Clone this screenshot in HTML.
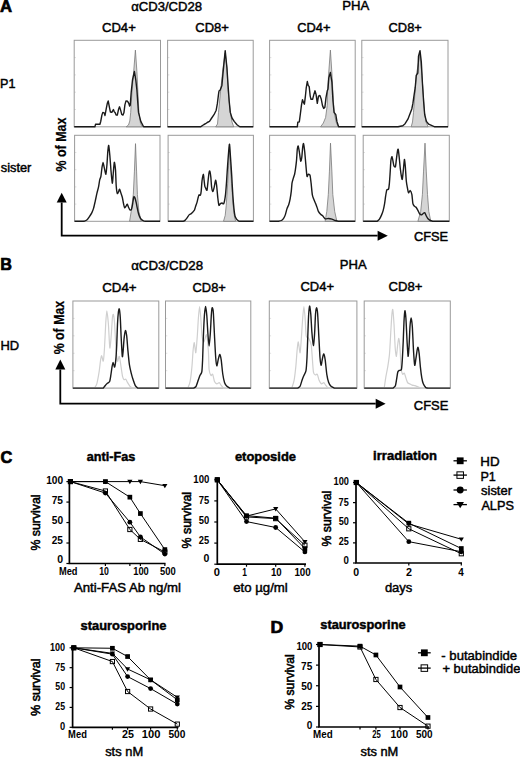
<!DOCTYPE html>
<html><head><meta charset="utf-8"><style>
html,body{margin:0;padding:0;background:#fff;}
svg{display:block;font-family:"Liberation Sans", sans-serif;}
</style></head><body>
<svg width="520" height="757" viewBox="0 0 520 757">
<rect width="520" height="757" fill="#fff"/>
<path d="M74.20 109.50 L76.00 109.50" stroke="#d8d8d8" stroke-width="0.8"/>
<path d="M74.20 92.20 L76.00 92.20" stroke="#d8d8d8" stroke-width="0.8"/>
<path d="M74.20 74.90 L76.00 74.90" stroke="#d8d8d8" stroke-width="0.8"/>
<path d="M74.20 57.60 L76.00 57.60" stroke="#d8d8d8" stroke-width="0.8"/>
<rect x="74.20" y="40.30" width="86.30" height="86.50" fill="none" stroke="#9a9a9a" stroke-width="1"/>
<path d="M167.60 109.50 L169.40 109.50" stroke="#d8d8d8" stroke-width="0.8"/>
<path d="M167.60 92.20 L169.40 92.20" stroke="#d8d8d8" stroke-width="0.8"/>
<path d="M167.60 74.90 L169.40 74.90" stroke="#d8d8d8" stroke-width="0.8"/>
<path d="M167.60 57.60 L169.40 57.60" stroke="#d8d8d8" stroke-width="0.8"/>
<rect x="167.60" y="40.30" width="85.60" height="86.50" fill="none" stroke="#9a9a9a" stroke-width="1"/>
<path d="M269.60 109.50 L271.40 109.50" stroke="#d8d8d8" stroke-width="0.8"/>
<path d="M269.60 92.20 L271.40 92.20" stroke="#d8d8d8" stroke-width="0.8"/>
<path d="M269.60 74.90 L271.40 74.90" stroke="#d8d8d8" stroke-width="0.8"/>
<path d="M269.60 57.60 L271.40 57.60" stroke="#d8d8d8" stroke-width="0.8"/>
<rect x="269.60" y="40.30" width="85.60" height="86.50" fill="none" stroke="#9a9a9a" stroke-width="1"/>
<path d="M361.80 109.50 L363.60 109.50" stroke="#d8d8d8" stroke-width="0.8"/>
<path d="M361.80 92.20 L363.60 92.20" stroke="#d8d8d8" stroke-width="0.8"/>
<path d="M361.80 74.90 L363.60 74.90" stroke="#d8d8d8" stroke-width="0.8"/>
<path d="M361.80 57.60 L363.60 57.60" stroke="#d8d8d8" stroke-width="0.8"/>
<rect x="361.80" y="40.30" width="86.20" height="86.50" fill="none" stroke="#9a9a9a" stroke-width="1"/>
<path d="M74.60 204.10 L76.40 204.10" stroke="#d8d8d8" stroke-width="0.8"/>
<path d="M74.60 186.90 L76.40 186.90" stroke="#d8d8d8" stroke-width="0.8"/>
<path d="M74.60 169.70 L76.40 169.70" stroke="#d8d8d8" stroke-width="0.8"/>
<path d="M74.60 152.50 L76.40 152.50" stroke="#d8d8d8" stroke-width="0.8"/>
<rect x="74.60" y="135.30" width="85.40" height="86.00" fill="none" stroke="#9a9a9a" stroke-width="1"/>
<path d="M168.10 204.10 L169.90 204.10" stroke="#d8d8d8" stroke-width="0.8"/>
<path d="M168.10 186.90 L169.90 186.90" stroke="#d8d8d8" stroke-width="0.8"/>
<path d="M168.10 169.70 L169.90 169.70" stroke="#d8d8d8" stroke-width="0.8"/>
<path d="M168.10 152.50 L169.90 152.50" stroke="#d8d8d8" stroke-width="0.8"/>
<rect x="168.10" y="135.30" width="85.30" height="86.00" fill="none" stroke="#9a9a9a" stroke-width="1"/>
<path d="M269.60 204.10 L271.40 204.10" stroke="#d8d8d8" stroke-width="0.8"/>
<path d="M269.60 186.90 L271.40 186.90" stroke="#d8d8d8" stroke-width="0.8"/>
<path d="M269.60 169.70 L271.40 169.70" stroke="#d8d8d8" stroke-width="0.8"/>
<path d="M269.60 152.50 L271.40 152.50" stroke="#d8d8d8" stroke-width="0.8"/>
<rect x="269.60" y="135.30" width="85.60" height="86.00" fill="none" stroke="#9a9a9a" stroke-width="1"/>
<path d="M363.20 204.10 L365.00 204.10" stroke="#d8d8d8" stroke-width="0.8"/>
<path d="M363.20 186.90 L365.00 186.90" stroke="#d8d8d8" stroke-width="0.8"/>
<path d="M363.20 169.70 L365.00 169.70" stroke="#d8d8d8" stroke-width="0.8"/>
<path d="M363.20 152.50 L365.00 152.50" stroke="#d8d8d8" stroke-width="0.8"/>
<rect x="363.20" y="135.30" width="86.10" height="86.00" fill="none" stroke="#9a9a9a" stroke-width="1"/>
<path d="M126.20 126.80 L128.50 125.00 L129.80 121.00 L130.70 112.40 L132.10 90.00 L133.70 71.40 L135.40 50.10 L136.90 71.40 L137.80 90.00 L138.90 112.40 L140.50 123.50 L142.50 126.80 Z" fill="#d5d5d5" stroke="#7a7a7a" stroke-width="0.8" stroke-linejoin="round"/>
<path d="M215.70 126.80 L217.50 124.00 L218.50 112.40 L220.70 90.00 L222.80 70.00 L225.20 53.00 L227.00 68.00 L228.00 90.00 L230.30 112.40 L232.00 122.00 L233.70 126.80 Z" fill="#d5d5d5" stroke="#7a7a7a" stroke-width="0.8" stroke-linejoin="round"/>
<path d="M320.60 126.80 L323.30 123.10 L325.60 117.50 L327.20 105.60 L327.60 90.00 L328.70 73.10 L330.40 50.10 L331.90 73.10 L332.80 90.00 L334.10 112.40 L336.50 123.50 L338.60 126.80 Z" fill="#d5d5d5" stroke="#7a7a7a" stroke-width="0.8" stroke-linejoin="round"/>
<path d="M411.20 126.80 L412.50 122.00 L413.50 112.40 L415.20 90.00 L416.30 75.30 L420.00 54.00 L421.90 75.30 L423.00 90.00 L424.50 112.40 L426.00 122.00 L428.10 126.80 Z" fill="#d5d5d5" stroke="#7a7a7a" stroke-width="0.8" stroke-linejoin="round"/>
<path d="M129.60 221.30 L131.20 211.44 L133.30 194.54 L134.40 171.91 L135.50 143.65 L136.60 171.91 L137.40 194.54 L138.90 211.44 L141.30 221.30 Z" fill="#d5d5d5" stroke="#7a7a7a" stroke-width="0.8" stroke-linejoin="round"/>
<path d="M223.50 221.30 L225.20 215.47 L226.20 205.81 L227.70 183.28 L228.60 165.17 L229.40 147.07 L230.40 165.17 L231.50 183.28 L233.20 205.81 L234.30 215.47 L235.60 221.30 Z" fill="#d5d5d5" stroke="#7a7a7a" stroke-width="0.8" stroke-linejoin="round"/>
<path d="M325.10 221.30 L326.80 211.44 L328.30 194.54 L329.40 171.91 L330.50 143.15 L331.90 171.91 L332.80 194.54 L334.70 211.44 L336.90 221.30 Z" fill="#d5d5d5" stroke="#7a7a7a" stroke-width="0.8" stroke-linejoin="round"/>
<path d="M417.90 221.30 L420.70 211.44 L422.40 194.54 L423.50 171.91 L425.00 143.15 L426.30 171.91 L427.50 194.54 L428.80 211.44 L430.80 221.30 Z" fill="#d5d5d5" stroke="#7a7a7a" stroke-width="0.8" stroke-linejoin="round"/>
<path d="M74.20 126.80 L94.90 126.80 L95.50 124.30 L99.90 124.30 L100.70 121.50 L101.90 115.10 L102.80 112.40 L104.10 112.80 L105.00 115.50 L106.20 108.80 L107.30 103.30 L108.20 100.90 L109.40 107.20 L110.40 112.00 L111.80 112.40 L113.40 109.60 L114.20 111.60 L115.20 112.80 L116.10 115.10 L117.30 115.10 L118.50 109.60 L119.50 106.80 L120.70 110.40 L121.70 114.40 L122.90 115.10 L123.90 112.80 L124.90 104.90 L126.00 100.90 L127.60 101.30 L128.80 103.30 L129.60 106.00 L130.20 105.50 L131.20 92.20 L132.50 80.00 L134.40 71.40 L135.80 80.00 L136.90 90.00 L137.80 103.00 L138.50 112.40 L140.80 121.40 L143.60 126.80 L160.50 126.80" fill="none" stroke="#1a1a1a" stroke-width="1.40" stroke-linejoin="round"/>
<path d="M167.60 126.80 L200.50 126.80 L204.00 124.50 L205.60 123.70 L207.20 122.50 L209.50 121.40 L211.70 118.00 L214.00 114.70 L216.20 110.20 L217.40 103.40 L218.50 94.40 L219.00 91.00 L220.20 90.00 L221.90 85.40 L223.00 73.10 L225.20 50.60 L226.90 67.50 L228.00 84.30 L229.20 101.20 L230.30 112.40 L232.00 118.00 L234.20 121.40 L237.00 124.80 L239.80 126.80 L253.20 126.80" fill="none" stroke="#1a1a1a" stroke-width="1.40" stroke-linejoin="round"/>
<path d="M269.60 126.80 L297.30 126.80 L297.80 122.30 L299.30 121.90 L300.30 114.40 L301.50 104.90 L302.50 99.70 L303.50 102.50 L304.40 104.20 L305.40 96.10 L306.20 88.20 L307.30 81.50 L308.20 85.40 L309.20 86.60 L310.20 96.10 L311.00 99.30 L312.60 99.30 L313.80 94.60 L315.00 90.80 L316.10 94.60 L317.30 103.30 L318.50 96.10 L319.90 95.50 L321.30 99.30 L322.50 105.60 L323.70 108.40 L324.90 107.20 L326.00 97.70 L327.20 91.00 L328.00 89.00 L328.80 77.90 L330.40 72.50 L331.90 82.10 L333.00 101.20 L334.10 112.40 L335.80 114.70 L336.90 121.40 L338.60 126.80 L355.20 126.80" fill="none" stroke="#1a1a1a" stroke-width="1.40" stroke-linejoin="round"/>
<path d="M361.80 126.80 L398.00 126.80 L402.80 125.70 L405.10 123.70 L407.90 119.20 L410.10 113.50 L411.80 109.00 L412.90 103.40 L414.00 95.60 L415.20 87.70 L416.30 75.30 L417.80 73.10 L418.50 56.20 L420.00 50.60 L421.30 61.90 L422.50 84.30 L423.60 101.20 L424.70 114.70 L426.40 121.40 L428.70 124.20 L430.30 124.80 L432.60 125.90 L434.80 126.80 L448.00 126.80" fill="none" stroke="#1a1a1a" stroke-width="1.40" stroke-linejoin="round"/>
<path d="M74.60 221.30 L84.00 221.30 C84.33 221.15 86.20 220.47 86.80 219.99 C87.39 219.51 88.50 218.03 89.10 217.18 C89.69 216.32 91.38 213.71 91.90 212.65 C92.43 211.59 93.21 209.45 93.60 208.12 C93.98 206.80 94.81 203.00 95.20 201.28 C95.59 199.57 96.50 195.15 96.90 193.44 C97.30 191.72 98.27 188.18 98.60 186.60 C98.93 185.01 99.43 181.04 99.70 179.86 C99.97 178.67 100.63 177.89 100.90 176.44 C101.17 174.98 101.74 169.03 102.00 167.39 C102.26 165.74 102.84 162.36 103.10 162.36 C103.36 162.36 103.87 166.00 104.20 167.39 C104.53 168.77 105.57 174.63 105.90 174.23 C106.23 173.83 106.78 166.61 107.00 163.97 C107.22 161.33 107.60 153.77 107.80 151.59 C108.00 149.42 108.47 144.96 108.70 145.36 C108.93 145.76 109.53 152.05 109.80 155.01 C110.07 157.98 110.71 167.52 111.00 170.81 C111.29 174.09 112.04 182.78 112.30 183.18 C112.56 183.58 112.97 176.66 113.20 174.23 C113.43 171.80 114.03 162.89 114.30 162.36 C114.57 161.83 115.28 166.98 115.50 169.70 C115.72 172.42 115.99 182.92 116.20 185.69 C116.41 188.46 117.03 192.72 117.30 193.44 C117.57 194.15 118.23 192.33 118.50 191.83 C118.77 191.32 119.33 189.02 119.60 189.11 C119.87 189.21 120.48 191.68 120.80 192.63 C121.11 193.58 121.98 195.99 122.30 197.26 C122.61 198.53 123.23 202.28 123.50 203.50 C123.77 204.72 124.28 207.45 124.60 207.72 C124.91 207.99 125.89 206.22 126.20 205.81 C126.52 205.40 127.03 204.02 127.30 204.20 C127.57 204.38 128.19 206.64 128.50 207.32 C128.81 208.00 129.65 209.81 130.00 210.03 C130.35 210.26 131.19 209.99 131.50 209.23 C131.81 208.47 132.43 204.94 132.70 203.50 C132.97 202.05 133.53 197.49 133.80 196.86 C134.07 196.22 134.72 197.38 135.00 198.06 C135.28 198.75 135.93 201.52 136.20 202.69 C136.47 203.87 137.03 206.86 137.30 208.12 C137.57 209.39 138.23 212.56 138.50 213.55 C138.77 214.55 139.28 216.00 139.60 216.67 C139.91 217.34 140.74 218.80 141.20 219.29 C141.66 219.78 142.96 220.66 143.50 220.90 C144.04 221.13 145.53 221.25 145.80 221.30 L160.00 221.30" fill="none" stroke="#1a1a1a" stroke-width="1.40" stroke-linejoin="round"/>
<path d="M168.10 221.30 L183.30 221.30 C183.50 221.19 184.56 220.79 185.00 220.39 C185.44 220.00 186.62 218.53 187.10 217.88 C187.58 217.23 188.62 215.36 189.10 214.86 C189.58 214.37 190.76 214.00 191.20 213.66 C191.64 213.32 192.52 212.38 192.90 211.95 C193.28 211.51 194.16 210.66 194.50 209.93 C194.84 209.21 195.51 206.59 195.80 205.71 C196.09 204.83 196.75 203.22 197.00 202.39 C197.25 201.56 197.67 199.45 197.90 198.57 C198.13 197.69 198.71 195.23 199.00 194.85 C199.29 194.46 200.14 195.68 200.40 195.25 C200.66 194.81 201.01 192.78 201.20 191.12 C201.39 189.47 201.75 183.03 202.00 181.07 C202.25 179.11 203.06 174.42 203.30 174.33 C203.55 174.23 203.92 178.89 204.10 180.26 C204.28 181.63 204.59 185.12 204.80 186.10 C205.01 187.07 205.64 188.13 205.90 188.61 C206.16 189.09 206.78 190.81 207.00 190.22 C207.22 189.63 207.58 185.53 207.80 183.58 C208.02 181.63 208.67 174.99 208.90 173.52 C209.13 172.06 209.58 170.62 209.80 171.01 C210.02 171.39 210.59 174.99 210.80 176.84 C211.01 178.70 211.37 185.19 211.60 186.90 C211.83 188.61 212.51 191.43 212.80 191.53 C213.09 191.62 213.77 189.02 214.10 187.70 C214.43 186.39 215.31 180.55 215.60 180.26 C215.89 179.97 216.34 183.15 216.60 185.19 C216.86 187.23 217.53 195.42 217.80 197.76 C218.07 200.11 218.60 204.63 218.90 205.31 C219.20 205.99 220.03 203.87 220.40 203.60 C220.77 203.33 221.70 202.99 222.10 202.99 C222.50 202.99 223.40 204.58 223.80 203.60 C224.20 202.61 225.17 197.18 225.50 194.54 C225.83 191.90 226.34 184.53 226.60 180.97 C226.86 177.40 227.37 168.25 227.70 163.97 C228.03 159.68 229.07 145.04 229.40 144.25 C229.73 143.47 230.23 153.60 230.50 157.23 C230.77 160.85 231.43 170.98 231.70 175.33 C231.97 179.69 232.54 190.72 232.80 194.54 C233.06 198.37 233.64 205.62 233.90 208.12 C234.16 210.62 234.67 214.65 235.00 215.97 C235.33 217.28 236.23 218.77 236.70 219.39 C237.17 220.01 238.73 221.08 239.00 221.30 L253.40 221.30" fill="none" stroke="#1a1a1a" stroke-width="1.40" stroke-linejoin="round"/>
<path d="M269.60 221.30 L278.00 221.30 C278.40 221.21 280.75 220.85 281.40 220.50 C282.05 220.14 283.15 218.94 283.60 218.28 C284.06 217.63 284.90 215.99 285.30 214.86 C285.70 213.74 286.60 209.81 287.00 208.63 C287.40 207.44 288.34 205.82 288.70 204.70 C289.06 203.59 289.80 200.65 290.10 199.07 C290.40 197.49 291.08 192.98 291.30 191.12 C291.52 189.27 291.78 184.63 292.00 183.18 C292.22 181.72 292.90 179.70 293.20 178.65 C293.50 177.61 294.34 175.27 294.60 174.23 C294.86 173.18 295.18 171.28 295.40 169.70 C295.62 168.12 296.28 163.03 296.50 160.65 C296.72 158.27 297.10 150.99 297.30 149.28 C297.50 147.57 297.97 145.69 298.20 145.96 C298.43 146.23 299.01 149.82 299.30 151.59 C299.59 153.37 300.41 160.49 300.70 161.15 C300.99 161.81 301.57 158.87 301.80 157.23 C302.03 155.58 302.50 148.65 302.70 147.07 C302.90 145.48 303.27 143.12 303.50 143.65 C303.73 144.18 304.42 149.08 304.70 151.59 C304.98 154.11 305.63 162.28 305.90 165.17 C306.17 168.07 306.72 175.38 307.00 176.44 C307.28 177.50 307.95 174.36 308.30 174.23 C308.65 174.10 309.67 174.29 310.00 175.33 C310.33 176.38 310.83 180.94 311.10 183.18 C311.37 185.42 312.00 192.69 312.30 194.54 C312.60 196.40 313.31 198.01 313.70 199.07 C314.08 200.13 315.18 202.54 315.60 203.60 C316.02 204.65 316.97 207.21 317.30 208.12 C317.63 209.04 318.01 210.73 318.40 211.44 C318.78 212.16 320.08 213.73 320.60 214.26 C321.12 214.79 322.38 215.44 322.90 215.97 C323.42 216.50 324.45 218.49 325.10 218.79 C325.75 219.08 327.71 218.44 328.50 218.48 C329.29 218.53 331.12 218.95 331.90 219.19 C332.68 219.42 334.42 220.25 335.20 220.50 C335.98 220.74 338.20 221.21 338.60 221.30 L355.20 221.30" fill="none" stroke="#1a1a1a" stroke-width="1.40" stroke-linejoin="round"/>
<path d="M363.20 221.30 L377.10 221.30 C377.36 221.08 378.78 220.14 379.30 219.39 C379.82 218.64 381.15 215.92 381.60 214.86 C382.06 213.81 382.85 211.65 383.20 210.34 C383.55 209.02 384.31 205.31 384.60 203.60 C384.89 201.88 385.44 197.24 385.70 195.65 C385.96 194.07 386.46 190.80 386.80 190.02 C387.14 189.23 388.30 189.71 388.60 188.91 C388.90 188.11 389.21 185.16 389.40 183.18 C389.59 181.20 390.02 174.54 390.20 171.91 C390.38 169.28 390.69 162.43 390.90 160.65 C391.11 158.86 391.74 156.49 392.00 156.62 C392.26 156.75 392.88 160.70 393.10 161.75 C393.32 162.81 393.63 165.08 393.90 165.68 C394.17 166.28 395.10 167.74 395.40 166.88 C395.70 166.03 396.27 160.12 396.50 158.33 C396.73 156.55 397.20 152.65 397.40 151.59 C397.60 150.54 397.99 148.62 398.20 149.28 C398.41 149.94 398.95 154.99 399.20 157.23 C399.44 159.47 400.04 166.25 400.30 168.49 C400.56 170.73 401.17 175.18 401.40 176.44 C401.63 177.69 402.06 180.18 402.30 179.26 C402.55 178.33 403.25 170.80 403.50 168.49 C403.75 166.18 404.19 159.70 404.40 159.44 C404.61 159.18 405.08 163.77 405.30 166.28 C405.52 168.79 406.06 178.47 406.30 180.97 C406.55 183.47 407.14 186.32 407.40 187.70 C407.66 189.09 408.17 192.51 408.50 192.83 C408.83 193.16 409.80 190.32 410.20 190.52 C410.60 190.72 411.58 193.02 411.90 194.54 C412.21 196.07 412.58 202.21 412.90 203.60 C413.21 204.98 414.22 205.96 414.60 206.41 C414.99 206.87 415.81 207.06 416.20 207.52 C416.58 207.98 417.50 209.61 417.90 210.34 C418.30 211.06 419.20 213.23 419.60 213.76 C420.00 214.28 420.90 214.86 421.30 214.86 C421.70 214.86 422.60 214.01 423.00 213.76 C423.40 213.50 424.31 212.39 424.70 212.65 C425.08 212.91 425.92 215.25 426.30 215.97 C426.69 216.68 427.53 218.26 428.00 218.79 C428.47 219.31 429.70 220.20 430.30 220.50 C430.90 220.79 432.77 221.21 433.10 221.30 L449.30 221.30" fill="none" stroke="#1a1a1a" stroke-width="1.40" stroke-linejoin="round"/>
<path d="M72.90 370.68 L74.70 370.68" stroke="#d8d8d8" stroke-width="0.8"/>
<path d="M72.90 353.26 L74.70 353.26" stroke="#d8d8d8" stroke-width="0.8"/>
<path d="M72.90 335.84 L74.70 335.84" stroke="#d8d8d8" stroke-width="0.8"/>
<path d="M72.90 318.42 L74.70 318.42" stroke="#d8d8d8" stroke-width="0.8"/>
<rect x="72.90" y="301.00" width="85.90" height="87.10" fill="none" stroke="#9a9a9a" stroke-width="1"/>
<path d="M165.50 370.68 L167.30 370.68" stroke="#d8d8d8" stroke-width="0.8"/>
<path d="M165.50 353.26 L167.30 353.26" stroke="#d8d8d8" stroke-width="0.8"/>
<path d="M165.50 335.84 L167.30 335.84" stroke="#d8d8d8" stroke-width="0.8"/>
<path d="M165.50 318.42 L167.30 318.42" stroke="#d8d8d8" stroke-width="0.8"/>
<rect x="165.50" y="301.00" width="85.30" height="87.10" fill="none" stroke="#9a9a9a" stroke-width="1"/>
<path d="M269.30 370.68 L271.10 370.68" stroke="#d8d8d8" stroke-width="0.8"/>
<path d="M269.30 353.26 L271.10 353.26" stroke="#d8d8d8" stroke-width="0.8"/>
<path d="M269.30 335.84 L271.10 335.84" stroke="#d8d8d8" stroke-width="0.8"/>
<path d="M269.30 318.42 L271.10 318.42" stroke="#d8d8d8" stroke-width="0.8"/>
<rect x="269.30" y="301.00" width="87.60" height="87.10" fill="none" stroke="#9a9a9a" stroke-width="1"/>
<path d="M364.20 370.68 L366.00 370.68" stroke="#d8d8d8" stroke-width="0.8"/>
<path d="M364.20 353.26 L366.00 353.26" stroke="#d8d8d8" stroke-width="0.8"/>
<path d="M364.20 335.84 L366.00 335.84" stroke="#d8d8d8" stroke-width="0.8"/>
<path d="M364.20 318.42 L366.00 318.42" stroke="#d8d8d8" stroke-width="0.8"/>
<rect x="364.20" y="301.00" width="86.10" height="87.10" fill="none" stroke="#9a9a9a" stroke-width="1"/>
<path d="M72.90 388.10 L94.40 388.10 C94.68 387.61 96.25 385.75 96.80 383.86 C97.35 381.98 98.66 374.74 99.10 371.95 C99.54 369.16 100.30 361.84 100.60 359.94 C100.90 358.05 101.39 355.56 101.70 355.70 C102.02 355.84 102.97 362.06 103.30 361.15 C103.63 360.25 104.22 352.26 104.50 347.93 C104.78 343.60 105.43 328.34 105.70 324.01 C105.97 319.68 106.48 310.79 106.80 310.79 C107.11 310.79 108.05 319.68 108.40 324.01 C108.75 328.34 109.47 346.54 109.80 347.93 C110.13 349.32 110.90 339.42 111.20 335.92 C111.50 332.42 112.14 320.46 112.40 317.96 C112.66 315.45 113.14 313.72 113.40 314.42 C113.66 315.13 114.32 320.38 114.60 324.01 C114.88 327.64 115.46 341.18 115.80 345.51 C116.14 349.84 117.09 359.89 117.50 361.15 C117.91 362.41 118.88 355.61 119.30 356.31 C119.72 357.00 120.71 364.73 121.10 367.11 C121.48 369.49 122.25 375.22 122.60 376.70 C122.95 378.17 123.73 379.44 124.10 379.72 C124.47 380.01 125.39 378.78 125.80 379.12 C126.21 379.46 127.11 381.81 127.60 382.65 C128.09 383.49 129.44 385.65 130.00 386.28 C130.56 386.92 132.12 387.89 132.40 388.10 L158.80 388.10" fill="none" stroke="#cfcfcf" stroke-width="1.20" stroke-linejoin="round"/>
<path d="M165.50 388.10 L187.80 388.10 C188.07 387.33 189.62 383.99 190.10 381.54 C190.58 379.09 191.55 370.75 191.90 367.11 C192.25 363.47 192.82 353.21 193.10 350.35 C193.38 347.49 193.99 342.30 194.30 342.58 C194.62 342.86 195.45 353.55 195.80 352.78 C196.15 352.00 197.00 339.98 197.30 335.92 C197.60 331.86 198.13 321.38 198.40 317.96 C198.67 314.53 199.32 306.55 199.60 306.55 C199.88 306.55 200.52 314.53 200.80 317.96 C201.08 321.38 201.65 333.11 202.00 335.92 C202.35 338.73 203.26 342.22 203.80 342.08 C204.34 341.94 206.06 333.64 206.60 334.71 C207.14 335.78 208.11 347.20 208.40 351.26 C208.69 355.32 208.81 366.70 209.10 369.53 C209.39 372.36 210.48 374.93 210.90 375.48 C211.32 376.04 212.28 373.57 212.70 374.27 C213.12 374.98 214.02 380.42 214.50 381.54 C214.98 382.66 216.25 383.73 216.80 383.86 C217.35 383.99 218.71 382.51 219.20 382.65 C219.69 382.79 220.51 384.44 221.00 385.07 C221.49 385.71 223.12 387.75 223.40 388.10 L250.80 388.10" fill="none" stroke="#cfcfcf" stroke-width="1.20" stroke-linejoin="round"/>
<path d="M269.30 388.10 L291.80 388.10 C292.07 387.19 293.62 382.92 294.10 380.33 C294.58 377.74 295.55 369.39 295.90 365.90 C296.25 362.40 296.82 353.14 297.10 350.35 C297.38 347.56 297.95 341.69 298.30 341.98 C298.65 342.26 299.73 353.48 300.10 352.78 C300.47 352.07 301.20 339.98 301.50 335.92 C301.80 331.86 302.42 321.38 302.70 317.96 C302.98 314.53 303.62 306.55 303.90 306.55 C304.18 306.55 304.83 314.53 305.10 317.96 C305.37 321.38 305.79 333.54 306.20 335.92 C306.61 338.30 308.00 337.22 308.60 338.34 C309.20 339.46 310.74 341.59 311.30 345.51 C311.86 349.43 312.91 368.53 313.40 371.95 C313.89 375.38 315.05 374.61 315.50 374.88 C315.95 375.15 316.88 373.64 317.30 374.27 C317.72 374.91 318.62 379.21 319.10 380.33 C319.58 381.45 320.85 383.59 321.40 383.86 C321.95 384.13 323.31 382.51 323.80 382.65 C324.29 382.79 325.11 384.44 325.60 385.07 C326.09 385.71 327.72 387.75 328.00 388.10 L356.90 388.10" fill="none" stroke="#cfcfcf" stroke-width="1.20" stroke-linejoin="round"/>
<path d="M364.20 388.10 L384.20 388.10 C384.40 386.77 385.49 379.14 385.90 376.70 C386.31 374.25 387.28 369.77 387.70 367.11 C388.12 364.45 389.13 358.22 389.50 353.89 C389.87 349.55 390.62 334.57 390.90 329.97 C391.18 325.36 391.68 316.80 391.90 314.42 C392.12 312.04 392.56 308.46 392.80 309.58 C393.05 310.70 393.72 319.54 394.00 324.01 C394.28 328.49 394.92 344.16 395.20 347.93 C395.48 351.70 396.12 356.59 396.40 356.31 C396.68 356.03 397.32 347.60 397.60 345.51 C397.88 343.41 398.52 338.06 398.80 338.34 C399.08 338.63 399.73 344.43 400.00 347.93 C400.27 351.43 400.80 365.25 401.10 368.32 C401.40 371.39 402.23 373.72 402.60 374.27 C402.97 374.83 403.92 372.64 404.30 373.06 C404.69 373.49 405.51 376.79 405.90 377.91 C406.28 379.02 407.16 381.96 407.60 382.65 C408.04 383.34 409.18 383.58 409.70 383.86 C410.22 384.14 411.48 384.86 412.10 385.07 C412.72 385.28 414.31 385.47 415.00 385.68 C415.69 385.89 417.23 386.61 418.00 386.89 C418.77 387.17 421.18 387.96 421.60 388.10 L450.30 388.10" fill="none" stroke="#cfcfcf" stroke-width="1.20" stroke-linejoin="round"/>
<path d="M72.90 388.10 L103.30 388.10 C103.51 387.82 104.62 386.24 105.10 385.68 C105.58 385.11 106.88 383.74 107.40 383.26 C107.93 382.77 109.20 382.45 109.60 381.54 C110.00 380.63 110.52 377.17 110.80 375.48 C111.08 373.80 111.73 368.64 112.00 367.11 C112.27 365.58 112.80 362.36 113.10 362.36 C113.40 362.36 114.28 367.39 114.60 367.11 C114.91 366.82 115.55 362.46 115.80 359.94 C116.05 357.42 116.50 349.70 116.70 345.51 C116.90 341.32 117.30 327.92 117.50 324.01 C117.70 320.10 118.19 313.76 118.40 312.00 C118.61 310.25 119.08 308.28 119.30 308.97 C119.52 309.67 120.09 314.81 120.30 317.96 C120.51 321.10 120.87 331.45 121.10 335.92 C121.33 340.40 122.07 354.48 122.30 356.31 C122.53 358.13 122.89 353.66 123.10 351.56 C123.31 349.47 123.82 340.79 124.10 338.34 C124.38 335.89 125.20 330.85 125.50 330.57 C125.80 330.29 126.42 333.61 126.70 335.92 C126.98 338.23 127.59 347.00 127.90 350.35 C128.22 353.71 129.02 362.04 129.40 364.68 C129.78 367.33 130.74 371.24 131.20 373.06 C131.66 374.89 132.82 378.86 133.30 380.33 C133.78 381.80 134.79 384.77 135.30 385.68 C135.81 386.58 137.42 387.82 137.70 388.10 L158.80 388.10" fill="none" stroke="#1a1a1a" stroke-width="1.40" stroke-linejoin="round"/>
<path d="M165.50 388.10 L193.70 388.10 C193.98 387.89 195.57 387.19 196.10 386.28 C196.62 385.38 197.76 381.59 198.20 380.33 C198.64 379.07 199.48 376.46 199.90 375.48 C200.32 374.51 201.49 373.77 201.80 371.95 C202.12 370.14 202.41 364.14 202.60 359.94 C202.79 355.74 203.19 341.10 203.40 335.92 C203.61 330.74 204.14 318.96 204.40 315.53 C204.66 312.11 205.32 306.55 205.60 306.55 C205.88 306.55 206.53 312.38 206.80 315.53 C207.07 318.69 207.63 330.03 207.90 333.60 C208.17 337.17 208.82 346.11 209.10 346.11 C209.38 346.11 210.04 337.17 210.30 333.60 C210.56 330.03 211.09 318.55 211.30 315.53 C211.51 312.52 211.87 308.17 212.10 307.76 C212.33 307.35 213.02 308.72 213.30 312.00 C213.58 315.29 214.22 330.61 214.50 335.92 C214.78 341.23 215.43 354.02 215.70 357.52 C215.97 361.02 216.49 365.75 216.80 365.90 C217.12 366.04 218.05 360.06 218.40 358.73 C218.75 357.40 219.47 354.35 219.80 354.49 C220.13 354.63 220.85 357.63 221.20 359.94 C221.55 362.25 222.40 371.62 222.80 374.27 C223.20 376.92 224.12 381.25 224.60 382.65 C225.08 384.05 226.28 385.65 226.90 386.28 C227.52 386.92 229.55 387.89 229.90 388.10 L250.80 388.10" fill="none" stroke="#1a1a1a" stroke-width="1.40" stroke-linejoin="round"/>
<path d="M269.30 388.10 L297.70 388.10 C297.98 387.89 299.58 387.26 300.10 386.28 C300.62 385.31 301.76 380.98 302.20 379.72 C302.64 378.46 303.46 376.53 303.90 375.48 C304.34 374.44 305.64 372.84 306.00 370.74 C306.36 368.64 306.79 361.58 307.00 357.52 C307.21 353.46 307.61 340.82 307.80 335.92 C307.99 331.02 308.39 319.03 308.60 315.53 C308.81 312.04 309.34 306.07 309.60 305.95 C309.86 305.82 310.53 311.34 310.80 314.42 C311.07 317.51 311.60 328.76 311.90 332.39 C312.20 336.01 313.08 345.37 313.40 345.51 C313.71 345.65 314.36 337.23 314.60 333.60 C314.85 329.97 315.28 317.44 315.50 314.42 C315.72 311.41 316.25 307.90 316.50 307.76 C316.75 307.62 317.33 309.93 317.60 313.21 C317.87 316.50 318.52 330.75 318.80 335.92 C319.08 341.09 319.73 354.09 320.00 357.52 C320.27 360.95 320.82 365.15 321.10 365.29 C321.38 365.43 322.08 360.06 322.40 358.73 C322.71 357.40 323.47 353.74 323.80 353.89 C324.13 354.03 324.85 357.56 325.20 359.94 C325.55 362.32 326.40 371.68 326.80 374.27 C327.20 376.86 328.11 380.74 328.60 382.15 C329.09 383.55 330.31 385.59 331.00 386.28 C331.69 386.98 334.09 387.89 334.50 388.10 L356.90 388.10" fill="none" stroke="#1a1a1a" stroke-width="1.40" stroke-linejoin="round"/>
<path d="M364.20 388.10 L393.10 388.10 C393.37 387.82 394.99 386.73 395.40 385.68 C395.81 384.63 396.32 380.72 396.60 379.12 C396.88 377.52 397.50 372.96 397.80 371.95 C398.10 370.94 398.78 370.72 399.20 370.44 C399.62 370.16 401.04 370.75 401.40 369.53 C401.76 368.30 402.09 363.16 402.30 359.94 C402.51 356.73 403.00 346.45 403.20 341.98 C403.40 337.50 403.80 325.23 404.00 321.59 C404.20 317.95 404.68 311.21 404.90 310.79 C405.12 310.37 405.64 314.32 405.90 317.96 C406.16 321.59 406.84 337.50 407.10 341.98 C407.36 346.45 407.87 355.90 408.10 356.31 C408.33 356.72 408.88 349.01 409.10 345.51 C409.32 342.01 409.77 329.55 410.00 326.33 C410.23 323.12 410.83 317.96 411.10 317.96 C411.37 317.96 412.02 322.55 412.30 326.33 C412.58 330.11 413.22 345.81 413.50 350.35 C413.78 354.90 414.42 364.31 414.70 365.29 C414.98 366.27 415.62 360.47 415.90 358.73 C416.18 356.99 416.86 351.68 417.10 350.35 C417.35 349.02 417.75 346.91 418.00 347.33 C418.25 347.74 418.92 351.58 419.20 353.89 C419.48 356.19 420.10 364.30 420.40 367.11 C420.70 369.91 421.46 375.95 421.80 377.91 C422.14 379.86 422.85 382.74 423.30 383.86 C423.75 384.98 425.21 387.00 425.70 387.49 C426.19 387.99 427.29 388.03 427.50 388.10 L450.30 388.10" fill="none" stroke="#1a1a1a" stroke-width="1.40" stroke-linejoin="round"/>
<path d="M61.70 202.60 L61.70 235.70 L377.60 235.70" fill="none" stroke="#000" stroke-width="1.80"/>
<path d="M61.70 192.80 L56.70 202.60 L66.70 202.60 Z" fill="#000"/>
<path d="M387.80 235.70 L377.60 230.70 L377.60 240.70 Z" fill="#000"/>
<path d="M60.30 369.50 L60.30 403.70 L375.70 403.70" fill="none" stroke="#000" stroke-width="1.80"/>
<path d="M60.30 359.50 L55.30 369.50 L65.30 369.50 Z" fill="#000"/>
<path d="M385.60 403.70 L375.70 398.70 L375.70 408.70 Z" fill="#000"/>
<text x="-0.07" y="12.00" font-size="16.80" font-weight="bold" fill="#000" stroke="#000" stroke-width="0.70" textLength="12.06" lengthAdjust="spacingAndGlyphs">A</text>
<text x="131.18" y="10.90" font-size="13.00" font-weight="normal" fill="#000" stroke="#000" stroke-width="0.45" textLength="70.87" lengthAdjust="spacingAndGlyphs">&#945;CD3/CD28</text>
<text x="342.15" y="10.40" font-size="13.00" font-weight="normal" fill="#000" stroke="#000" stroke-width="0.45" textLength="27.06" lengthAdjust="spacingAndGlyphs">PHA</text>
<text x="101.96" y="31.90" font-size="13.00" font-weight="normal" fill="#000" stroke="#000" stroke-width="0.45" textLength="33.86" lengthAdjust="spacingAndGlyphs">CD4+</text>
<text x="195.37" y="31.90" font-size="13.00" font-weight="normal" fill="#000" stroke="#000" stroke-width="0.45" textLength="33.55" lengthAdjust="spacingAndGlyphs">CD8+</text>
<text x="297.27" y="31.90" font-size="13.00" font-weight="normal" fill="#000" stroke="#000" stroke-width="0.45" textLength="33.13" lengthAdjust="spacingAndGlyphs">CD4+</text>
<text x="388.57" y="31.90" font-size="13.00" font-weight="normal" fill="#000" stroke="#000" stroke-width="0.45" textLength="33.24" lengthAdjust="spacingAndGlyphs">CD8+</text>
<text x="0.09" y="88.20" font-size="13.00" font-weight="normal" fill="#000" stroke="#000" stroke-width="0.45" textLength="15.40" lengthAdjust="spacingAndGlyphs">P1</text>
<text x="0.77" y="172.20" font-size="13.00" font-weight="normal" fill="#000" stroke="#000" stroke-width="0.45" textLength="30.62" lengthAdjust="spacingAndGlyphs">sister</text>
<text transform="translate(65.90 171.60) rotate(-90)" x="0" y="0" font-size="14.00" font-weight="bold" stroke="#000" stroke-width="0.20" textLength="54.10" lengthAdjust="spacingAndGlyphs">% of Max</text>
<text x="413.97" y="241.20" font-size="13.00" font-weight="normal" fill="#000" stroke="#000" stroke-width="0.45" textLength="34.15" lengthAdjust="spacingAndGlyphs">CFSE</text>
<text x="0.16" y="269.70" font-size="17.40" font-weight="bold" fill="#000" stroke="#000" stroke-width="0.70" textLength="11.72" lengthAdjust="spacingAndGlyphs">B</text>
<text x="131.17" y="269.60" font-size="13.00" font-weight="normal" fill="#000" stroke="#000" stroke-width="0.45" textLength="71.88" lengthAdjust="spacingAndGlyphs">&#945;CD3/CD28</text>
<text x="339.75" y="269.00" font-size="13.00" font-weight="normal" fill="#000" stroke="#000" stroke-width="0.45" textLength="26.85" lengthAdjust="spacingAndGlyphs">PHA</text>
<text x="102.25" y="291.50" font-size="13.00" font-weight="normal" fill="#000" stroke="#000" stroke-width="0.45" textLength="34.38" lengthAdjust="spacingAndGlyphs">CD4+</text>
<text x="192.57" y="291.50" font-size="13.00" font-weight="normal" fill="#000" stroke="#000" stroke-width="0.45" textLength="33.24" lengthAdjust="spacingAndGlyphs">CD8+</text>
<text x="300.47" y="290.60" font-size="13.00" font-weight="normal" fill="#000" stroke="#000" stroke-width="0.45" textLength="33.55" lengthAdjust="spacingAndGlyphs">CD4+</text>
<text x="388.56" y="290.60" font-size="13.00" font-weight="normal" fill="#000" stroke="#000" stroke-width="0.45" textLength="33.86" lengthAdjust="spacingAndGlyphs">CD8+</text>
<text x="0.41" y="349.70" font-size="13.00" font-weight="normal" fill="#000" stroke="#000" stroke-width="0.45" textLength="18.73" lengthAdjust="spacingAndGlyphs">HD</text>
<text transform="translate(63.80 354.30) rotate(-90)" x="0" y="0" font-size="14.00" font-weight="bold" stroke="#000" stroke-width="0.20" textLength="53.40" lengthAdjust="spacingAndGlyphs">% of Max</text>
<text x="413.87" y="409.80" font-size="13.00" font-weight="normal" fill="#000" stroke="#000" stroke-width="0.45" textLength="34.46" lengthAdjust="spacingAndGlyphs">CFSE</text>
<path d="M69.40 481.10 L69.40 563.50 L165.50 563.50" fill="none" stroke="#000" stroke-width="1.7"/>
<path d="M66.40 563.50 L69.40 563.50" stroke="#000" stroke-width="1.2"/>
<path d="M66.40 543.02 L69.40 543.02" stroke="#000" stroke-width="1.2"/>
<path d="M66.40 522.55 L69.40 522.55" stroke="#000" stroke-width="1.2"/>
<path d="M66.40 502.08 L69.40 502.08" stroke="#000" stroke-width="1.2"/>
<path d="M66.40 481.60 L69.40 481.60" stroke="#000" stroke-width="1.2"/>
<path d="M105.40 563.50 L105.40 566.00" stroke="#000" stroke-width="1.2"/>
<path d="M129.86 563.50 L129.86 566.00" stroke="#000" stroke-width="1.2"/>
<path d="M140.40 563.50 L140.40 566.00" stroke="#000" stroke-width="1.2"/>
<path d="M164.86 563.50 L164.86 566.00" stroke="#000" stroke-width="1.2"/>
<path d="M70.40 481.60 L105.40 481.60 L129.86 481.60 L140.40 481.60 L164.86 485.70" fill="none" stroke="#000" stroke-width="1.00" stroke-linejoin="round"/>
<path d="M70.40 481.60 L105.40 493.07 L129.86 522.14 L140.40 536.88 L164.86 554.08" fill="none" stroke="#000" stroke-width="1.00" stroke-linejoin="round"/>
<path d="M70.40 481.60 L105.40 491.02 L129.86 529.51 L140.40 539.34 L164.86 552.03" fill="none" stroke="#000" stroke-width="1.00" stroke-linejoin="round"/>
<path d="M70.40 481.60 L105.40 481.60 L129.86 497.16 L140.40 513.54 L164.86 549.58" fill="none" stroke="#000" stroke-width="1.00" stroke-linejoin="round"/>
<path d="M67.80 479.80 L73.00 479.80 L70.40 484.20 Z" fill="#000"/>
<path d="M102.80 479.80 L108.00 479.80 L105.40 484.20 Z" fill="#000"/>
<path d="M127.26 479.80 L132.46 479.80 L129.86 484.20 Z" fill="#000"/>
<path d="M137.80 479.80 L143.00 479.80 L140.40 484.20 Z" fill="#000"/>
<path d="M162.26 483.90 L167.46 483.90 L164.86 488.30 Z" fill="#000"/>
<circle cx="70.40" cy="481.60" r="2.40" fill="#000"/>
<circle cx="105.40" cy="493.07" r="2.40" fill="#000"/>
<circle cx="129.86" cy="522.14" r="2.40" fill="#000"/>
<circle cx="140.40" cy="536.88" r="2.40" fill="#000"/>
<circle cx="164.86" cy="554.08" r="2.40" fill="#000"/>
<rect x="68.30" y="479.50" width="4.20" height="4.20" fill="none" stroke="#000" stroke-width="1"/>
<rect x="103.30" y="488.92" width="4.20" height="4.20" fill="none" stroke="#000" stroke-width="1"/>
<rect x="127.76" y="527.41" width="4.20" height="4.20" fill="none" stroke="#000" stroke-width="1"/>
<rect x="138.30" y="537.24" width="4.20" height="4.20" fill="none" stroke="#000" stroke-width="1"/>
<rect x="162.76" y="549.93" width="4.20" height="4.20" fill="none" stroke="#000" stroke-width="1"/>
<rect x="68.05" y="479.25" width="4.70" height="4.70" fill="#000"/>
<rect x="103.05" y="479.25" width="4.70" height="4.70" fill="#000"/>
<rect x="127.51" y="494.81" width="4.70" height="4.70" fill="#000"/>
<rect x="138.05" y="511.19" width="4.70" height="4.70" fill="#000"/>
<rect x="162.51" y="547.23" width="4.70" height="4.70" fill="#000"/>
<path d="M217.30 479.30 L217.30 564.20 L306.00 564.20" fill="none" stroke="#000" stroke-width="1.7"/>
<path d="M214.30 564.20 L217.30 564.20" stroke="#000" stroke-width="1.2"/>
<path d="M214.30 543.10 L217.30 543.10" stroke="#000" stroke-width="1.2"/>
<path d="M214.30 522.00 L217.30 522.00" stroke="#000" stroke-width="1.2"/>
<path d="M214.30 500.90 L217.30 500.90" stroke="#000" stroke-width="1.2"/>
<path d="M214.30 479.80 L217.30 479.80" stroke="#000" stroke-width="1.2"/>
<path d="M246.50 564.20 L246.50 566.70" stroke="#000" stroke-width="1.2"/>
<path d="M275.70 564.20 L275.70 566.70" stroke="#000" stroke-width="1.2"/>
<path d="M304.90 564.20 L304.90 566.70" stroke="#000" stroke-width="1.2"/>
<path d="M217.30 479.80 L246.50 516.09 L275.70 508.92 L304.90 541.83" fill="none" stroke="#000" stroke-width="1.00" stroke-linejoin="round"/>
<path d="M217.30 479.80 L246.50 521.58 L275.70 527.49 L304.90 551.96" fill="none" stroke="#000" stroke-width="1.00" stroke-linejoin="round"/>
<path d="M217.30 479.80 L246.50 516.94 L275.70 518.62 L304.90 545.21" fill="none" stroke="#000" stroke-width="1.00" stroke-linejoin="round"/>
<path d="M217.30 479.80 L246.50 515.67 L275.70 518.20 L304.90 548.59" fill="none" stroke="#000" stroke-width="1.00" stroke-linejoin="round"/>
<path d="M214.70 478.00 L219.90 478.00 L217.30 482.40 Z" fill="#000"/>
<path d="M243.90 514.29 L249.10 514.29 L246.50 518.69 Z" fill="#000"/>
<path d="M273.10 507.12 L278.30 507.12 L275.70 511.52 Z" fill="#000"/>
<path d="M302.30 540.03 L307.50 540.03 L304.90 544.43 Z" fill="#000"/>
<circle cx="217.30" cy="479.80" r="2.40" fill="#000"/>
<circle cx="246.50" cy="521.58" r="2.40" fill="#000"/>
<circle cx="275.70" cy="527.49" r="2.40" fill="#000"/>
<circle cx="304.90" cy="551.96" r="2.40" fill="#000"/>
<rect x="215.20" y="477.70" width="4.20" height="4.20" fill="none" stroke="#000" stroke-width="1"/>
<rect x="244.40" y="514.84" width="4.20" height="4.20" fill="none" stroke="#000" stroke-width="1"/>
<rect x="273.60" y="516.52" width="4.20" height="4.20" fill="none" stroke="#000" stroke-width="1"/>
<rect x="302.80" y="543.11" width="4.20" height="4.20" fill="none" stroke="#000" stroke-width="1"/>
<rect x="214.95" y="477.45" width="4.70" height="4.70" fill="#000"/>
<rect x="244.15" y="513.32" width="4.70" height="4.70" fill="#000"/>
<rect x="273.35" y="515.85" width="4.70" height="4.70" fill="#000"/>
<rect x="302.55" y="546.24" width="4.70" height="4.70" fill="#000"/>
<path d="M356.00 482.00 L356.00 563.00 L462.00 563.00" fill="none" stroke="#000" stroke-width="1.7"/>
<path d="M353.00 563.00 L356.00 563.00" stroke="#000" stroke-width="1.2"/>
<path d="M353.00 542.88 L356.00 542.88" stroke="#000" stroke-width="1.2"/>
<path d="M353.00 522.75 L356.00 522.75" stroke="#000" stroke-width="1.2"/>
<path d="M353.00 502.62 L356.00 502.62" stroke="#000" stroke-width="1.2"/>
<path d="M353.00 482.50 L356.00 482.50" stroke="#000" stroke-width="1.2"/>
<path d="M408.80 563.00 L408.80 565.50" stroke="#000" stroke-width="1.2"/>
<path d="M461.30 563.00 L461.30 565.50" stroke="#000" stroke-width="1.2"/>
<path d="M356.30 482.50 L408.80 523.96 L461.30 539.25" fill="none" stroke="#000" stroke-width="1.00" stroke-linejoin="round"/>
<path d="M356.30 482.50 L408.80 541.67 L461.30 551.73" fill="none" stroke="#000" stroke-width="1.00" stroke-linejoin="round"/>
<path d="M356.30 482.50 L408.80 528.79 L461.30 553.74" fill="none" stroke="#000" stroke-width="1.00" stroke-linejoin="round"/>
<path d="M356.30 482.50 L408.80 523.15 L461.30 548.51" fill="none" stroke="#000" stroke-width="1.00" stroke-linejoin="round"/>
<path d="M353.70 480.70 L358.90 480.70 L356.30 485.10 Z" fill="#000"/>
<path d="M406.20 522.16 L411.40 522.16 L408.80 526.56 Z" fill="#000"/>
<path d="M458.70 537.45 L463.90 537.45 L461.30 541.85 Z" fill="#000"/>
<circle cx="356.30" cy="482.50" r="2.40" fill="#000"/>
<circle cx="408.80" cy="541.67" r="2.40" fill="#000"/>
<circle cx="461.30" cy="551.73" r="2.40" fill="#000"/>
<rect x="354.20" y="480.40" width="4.20" height="4.20" fill="none" stroke="#000" stroke-width="1"/>
<rect x="406.70" y="526.69" width="4.20" height="4.20" fill="none" stroke="#000" stroke-width="1"/>
<rect x="459.20" y="551.64" width="4.20" height="4.20" fill="none" stroke="#000" stroke-width="1"/>
<rect x="353.95" y="480.15" width="4.70" height="4.70" fill="#000"/>
<rect x="406.45" y="520.80" width="4.70" height="4.70" fill="#000"/>
<rect x="458.95" y="546.16" width="4.70" height="4.70" fill="#000"/>
<path d="M72.60 647.30 L72.60 727.30 L178.50 727.30" fill="none" stroke="#000" stroke-width="1.7"/>
<path d="M69.60 727.30 L72.60 727.30" stroke="#000" stroke-width="1.2"/>
<path d="M69.60 707.42 L72.60 707.42" stroke="#000" stroke-width="1.2"/>
<path d="M69.60 687.55 L72.60 687.55" stroke="#000" stroke-width="1.2"/>
<path d="M69.60 667.67 L72.60 667.67" stroke="#000" stroke-width="1.2"/>
<path d="M69.60 647.80 L72.60 647.80" stroke="#000" stroke-width="1.2"/>
<path d="M112.40 727.30 L112.40 729.80" stroke="#000" stroke-width="1.2"/>
<path d="M127.60 727.30 L127.60 729.80" stroke="#000" stroke-width="1.2"/>
<path d="M150.60 727.30 L150.60 729.80" stroke="#000" stroke-width="1.2"/>
<path d="M177.30 727.30 L177.30 729.80" stroke="#000" stroke-width="1.2"/>
<path d="M73.80 647.80 L112.40 653.37 L127.60 669.03 L150.60 679.84 L177.30 697.33" fill="none" stroke="#000" stroke-width="1.00" stroke-linejoin="round"/>
<path d="M73.80 647.80 L112.40 654.16 L127.60 676.58 L150.60 688.58 L177.30 704.09" fill="none" stroke="#000" stroke-width="1.00" stroke-linejoin="round"/>
<path d="M73.80 647.80 L112.40 661.55 L127.60 691.52 L150.60 709.01 L177.30 724.12" fill="none" stroke="#000" stroke-width="1.00" stroke-linejoin="round"/>
<path d="M73.80 647.80 L112.40 648.28 L127.60 656.54 L150.60 679.84 L177.30 699.79" fill="none" stroke="#000" stroke-width="1.00" stroke-linejoin="round"/>
<path d="M71.20 646.00 L76.40 646.00 L73.80 650.40 Z" fill="#000"/>
<path d="M109.80 651.57 L115.00 651.57 L112.40 655.97 Z" fill="#000"/>
<path d="M125.00 667.23 L130.20 667.23 L127.60 671.63 Z" fill="#000"/>
<path d="M148.00 678.04 L153.20 678.04 L150.60 682.44 Z" fill="#000"/>
<path d="M174.70 695.53 L179.90 695.53 L177.30 699.93 Z" fill="#000"/>
<circle cx="73.80" cy="647.80" r="2.40" fill="#000"/>
<circle cx="112.40" cy="654.16" r="2.40" fill="#000"/>
<circle cx="127.60" cy="676.58" r="2.40" fill="#000"/>
<circle cx="150.60" cy="688.58" r="2.40" fill="#000"/>
<circle cx="177.30" cy="704.09" r="2.40" fill="#000"/>
<rect x="71.70" y="645.70" width="4.20" height="4.20" fill="none" stroke="#000" stroke-width="1"/>
<rect x="110.30" y="659.45" width="4.20" height="4.20" fill="none" stroke="#000" stroke-width="1"/>
<rect x="125.50" y="689.42" width="4.20" height="4.20" fill="none" stroke="#000" stroke-width="1"/>
<rect x="148.50" y="706.91" width="4.20" height="4.20" fill="none" stroke="#000" stroke-width="1"/>
<rect x="175.20" y="722.02" width="4.20" height="4.20" fill="none" stroke="#000" stroke-width="1"/>
<rect x="71.45" y="645.45" width="4.70" height="4.70" fill="#000"/>
<rect x="110.05" y="645.93" width="4.70" height="4.70" fill="#000"/>
<rect x="125.25" y="654.19" width="4.70" height="4.70" fill="#000"/>
<rect x="148.25" y="677.49" width="4.70" height="4.70" fill="#000"/>
<rect x="174.95" y="697.44" width="4.70" height="4.70" fill="#000"/>
<path d="M319.00 644.00 L319.00 727.00 L429.00 727.00" fill="none" stroke="#000" stroke-width="1.7"/>
<path d="M316.00 727.00 L319.00 727.00" stroke="#000" stroke-width="1.2"/>
<path d="M316.00 706.38 L319.00 706.38" stroke="#000" stroke-width="1.2"/>
<path d="M316.00 685.75 L319.00 685.75" stroke="#000" stroke-width="1.2"/>
<path d="M316.00 665.12 L319.00 665.12" stroke="#000" stroke-width="1.2"/>
<path d="M316.00 644.50 L319.00 644.50" stroke="#000" stroke-width="1.2"/>
<path d="M360.00 727.00 L360.00 729.50" stroke="#000" stroke-width="1.2"/>
<path d="M375.92 727.00 L375.92 729.50" stroke="#000" stroke-width="1.2"/>
<path d="M400.00 727.00 L400.00 729.50" stroke="#000" stroke-width="1.2"/>
<path d="M427.96 727.00 L427.96 729.50" stroke="#000" stroke-width="1.2"/>
<path d="M320.00 644.50 L360.00 646.98 L375.92 679.48 L400.00 707.53 L427.96 726.17" fill="none" stroke="#000" stroke-width="1.00" stroke-linejoin="round"/>
<path d="M320.00 644.50 L360.00 646.15 L375.92 654.98 L400.00 686.99 L427.96 717.51" fill="none" stroke="#000" stroke-width="1.00" stroke-linejoin="round"/>
<rect x="317.90" y="642.40" width="4.20" height="4.20" fill="none" stroke="#000" stroke-width="1"/>
<rect x="357.90" y="644.88" width="4.20" height="4.20" fill="none" stroke="#000" stroke-width="1"/>
<rect x="373.82" y="677.38" width="4.20" height="4.20" fill="none" stroke="#000" stroke-width="1"/>
<rect x="397.90" y="705.43" width="4.20" height="4.20" fill="none" stroke="#000" stroke-width="1"/>
<rect x="425.86" y="724.07" width="4.20" height="4.20" fill="none" stroke="#000" stroke-width="1"/>
<rect x="317.65" y="642.15" width="4.70" height="4.70" fill="#000"/>
<rect x="357.65" y="643.80" width="4.70" height="4.70" fill="#000"/>
<rect x="373.57" y="652.63" width="4.70" height="4.70" fill="#000"/>
<rect x="397.65" y="684.64" width="4.70" height="4.70" fill="#000"/>
<rect x="425.61" y="715.16" width="4.70" height="4.70" fill="#000"/>
<text x="0.48" y="463.20" font-size="16.80" font-weight="bold" fill="#000" stroke="#000" stroke-width="0.70" textLength="11.82" lengthAdjust="spacingAndGlyphs">C</text>
<text x="86.85" y="460.60" font-size="12.50" font-weight="bold" fill="#000" stroke="#000" stroke-width="0.45" textLength="48.44" lengthAdjust="spacingAndGlyphs">anti-Fas</text>
<text x="234.92" y="461.00" font-size="12.80" font-weight="bold" fill="#000" stroke="#000" stroke-width="0.45" textLength="61.10" lengthAdjust="spacingAndGlyphs">etoposide</text>
<text x="373.11" y="460.30" font-size="12.80" font-weight="bold" fill="#000" stroke="#000" stroke-width="0.45" textLength="63.87" lengthAdjust="spacingAndGlyphs">irradiation</text>
<text x="46.16" y="483.70" font-size="10.00" font-weight="bold" fill="#000" textLength="16.96" lengthAdjust="spacingAndGlyphs">100</text>
<text x="51.66" y="503.60" font-size="10.00" font-weight="bold" fill="#000" textLength="11.32" lengthAdjust="spacingAndGlyphs">75</text>
<text x="51.79" y="524.00" font-size="10.00" font-weight="bold" fill="#000" textLength="11.33" lengthAdjust="spacingAndGlyphs">50</text>
<text x="51.75" y="543.80" font-size="10.00" font-weight="bold" fill="#000" textLength="11.23" lengthAdjust="spacingAndGlyphs">25</text>
<text x="57.28" y="562.70" font-size="10.00" font-weight="bold" fill="#000" textLength="5.85" lengthAdjust="spacingAndGlyphs">0</text>
<text x="193.30" y="483.40" font-size="10.00" font-weight="bold" fill="#000" textLength="16.00" lengthAdjust="spacingAndGlyphs">100</text>
<text x="198.70" y="503.70" font-size="10.00" font-weight="bold" fill="#000" textLength="10.47" lengthAdjust="spacingAndGlyphs">75</text>
<text x="198.81" y="523.80" font-size="10.00" font-weight="bold" fill="#000" textLength="10.48" lengthAdjust="spacingAndGlyphs">50</text>
<text x="198.78" y="543.70" font-size="10.00" font-weight="bold" fill="#000" textLength="10.38" lengthAdjust="spacingAndGlyphs">25</text>
<text x="203.48" y="562.10" font-size="10.00" font-weight="bold" fill="#000" textLength="5.85" lengthAdjust="spacingAndGlyphs">0</text>
<text x="333.52" y="485.10" font-size="10.00" font-weight="bold" fill="#000" textLength="15.36" lengthAdjust="spacingAndGlyphs">100</text>
<text x="338.61" y="505.60" font-size="10.00" font-weight="bold" fill="#000" textLength="10.15" lengthAdjust="spacingAndGlyphs">75</text>
<text x="338.72" y="525.40" font-size="10.00" font-weight="bold" fill="#000" textLength="10.16" lengthAdjust="spacingAndGlyphs">50</text>
<text x="338.69" y="545.00" font-size="10.00" font-weight="bold" fill="#000" textLength="10.07" lengthAdjust="spacingAndGlyphs">25</text>
<text x="343.52" y="564.40" font-size="10.00" font-weight="bold" fill="#000" textLength="5.38" lengthAdjust="spacingAndGlyphs">0</text>
<text x="50.03" y="650.60" font-size="10.00" font-weight="bold" fill="#000" textLength="15.14" lengthAdjust="spacingAndGlyphs">100</text>
<text x="55.22" y="670.50" font-size="10.00" font-weight="bold" fill="#000" textLength="9.83" lengthAdjust="spacingAndGlyphs">75</text>
<text x="55.33" y="690.40" font-size="10.00" font-weight="bold" fill="#000" textLength="9.83" lengthAdjust="spacingAndGlyphs">50</text>
<text x="55.30" y="710.30" font-size="10.00" font-weight="bold" fill="#000" textLength="9.75" lengthAdjust="spacingAndGlyphs">25</text>
<text x="60.03" y="730.20" font-size="10.00" font-weight="bold" fill="#000" textLength="5.15" lengthAdjust="spacingAndGlyphs">0</text>
<text x="296.40" y="649.50" font-size="10.00" font-weight="bold" fill="#000" textLength="16.00" lengthAdjust="spacingAndGlyphs">100</text>
<text x="301.07" y="670.00" font-size="10.00" font-weight="bold" fill="#000" textLength="11.21" lengthAdjust="spacingAndGlyphs">75</text>
<text x="301.19" y="689.80" font-size="10.00" font-weight="bold" fill="#000" textLength="11.22" lengthAdjust="spacingAndGlyphs">50</text>
<text x="301.15" y="709.80" font-size="10.00" font-weight="bold" fill="#000" textLength="11.13" lengthAdjust="spacingAndGlyphs">25</text>
<text x="306.80" y="728.60" font-size="10.00" font-weight="bold" fill="#000" textLength="5.61" lengthAdjust="spacingAndGlyphs">0</text>
<text x="58.98" y="574.50" font-size="10.00" font-weight="bold" fill="#000" textLength="18.53" lengthAdjust="spacingAndGlyphs">Med</text>
<text x="99.15" y="574.50" font-size="10.00" font-weight="bold" fill="#000" textLength="9.71" lengthAdjust="spacingAndGlyphs">10</text>
<text x="133.21" y="574.50" font-size="10.00" font-weight="bold" fill="#000" textLength="15.57" lengthAdjust="spacingAndGlyphs">100</text>
<text x="160.11" y="574.50" font-size="10.00" font-weight="bold" fill="#000" textLength="15.67" lengthAdjust="spacingAndGlyphs">500</text>
<text x="213.86" y="575.60" font-size="10.00" font-weight="bold" fill="#000" textLength="6.20" lengthAdjust="spacingAndGlyphs">0</text>
<text x="242.17" y="575.60" font-size="10.00" font-weight="bold" fill="#000" textLength="4.66" lengthAdjust="spacingAndGlyphs">1</text>
<text x="270.89" y="575.60" font-size="10.00" font-weight="bold" fill="#000" textLength="10.70" lengthAdjust="spacingAndGlyphs">10</text>
<text x="294.38" y="575.60" font-size="10.00" font-weight="bold" fill="#000" textLength="16.32" lengthAdjust="spacingAndGlyphs">100</text>
<text x="353.38" y="576.30" font-size="10.00" font-weight="bold" fill="#000" textLength="5.85" lengthAdjust="spacingAndGlyphs">0</text>
<text x="405.93" y="576.30" font-size="10.00" font-weight="bold" fill="#000" textLength="6.01" lengthAdjust="spacingAndGlyphs">2</text>
<text x="458.35" y="576.30" font-size="10.00" font-weight="bold" fill="#000" textLength="5.50" lengthAdjust="spacingAndGlyphs">4</text>
<text x="68.12" y="737.50" font-size="10.00" font-weight="bold" fill="#000" textLength="18.74" lengthAdjust="spacingAndGlyphs">Med</text>
<text x="122.13" y="737.50" font-size="10.00" font-weight="bold" fill="#000" textLength="11.92" lengthAdjust="spacingAndGlyphs">25</text>
<text x="141.80" y="737.50" font-size="10.00" font-weight="bold" fill="#000" textLength="18.66" lengthAdjust="spacingAndGlyphs">100</text>
<text x="168.44" y="737.50" font-size="10.00" font-weight="bold" fill="#000" textLength="16.98" lengthAdjust="spacingAndGlyphs">500</text>
<text x="313.10" y="737.50" font-size="10.00" font-weight="bold" fill="#000" textLength="19.55" lengthAdjust="spacingAndGlyphs">Med</text>
<text x="372.24" y="737.50" font-size="10.00" font-weight="bold" fill="#000" textLength="8.48" lengthAdjust="spacingAndGlyphs">25</text>
<text x="390.60" y="737.50" font-size="10.00" font-weight="bold" fill="#000" textLength="17.33" lengthAdjust="spacingAndGlyphs">100</text>
<text x="415.99" y="737.50" font-size="10.00" font-weight="bold" fill="#000" textLength="16.61" lengthAdjust="spacingAndGlyphs">500</text>
<text x="73.95" y="592.30" font-size="12.60" font-weight="normal" fill="#000" stroke="#000" stroke-width="0.45" textLength="107.10" lengthAdjust="spacingAndGlyphs">Anti-FAS Ab ng/ml</text>
<text x="233.16" y="591.70" font-size="12.80" font-weight="normal" fill="#000" stroke="#000" stroke-width="0.45" textLength="54.59" lengthAdjust="spacingAndGlyphs">eto &#181;g/ml</text>
<text x="384.88" y="591.80" font-size="13.00" font-weight="normal" fill="#000" stroke="#000" stroke-width="0.45" textLength="27.47" lengthAdjust="spacingAndGlyphs">days</text>
<text x="105.17" y="755.60" font-size="12.80" font-weight="normal" fill="#000" stroke="#000" stroke-width="0.45" textLength="37.97" lengthAdjust="spacingAndGlyphs">sts nM</text>
<text x="360.47" y="756.40" font-size="12.80" font-weight="normal" fill="#000" stroke="#000" stroke-width="0.45" textLength="37.86" lengthAdjust="spacingAndGlyphs">sts nM</text>
<text transform="translate(39.50 550.50) rotate(-90)" x="0" y="0" font-size="12.60" font-weight="normal" stroke="#000" stroke-width="0.55" textLength="56.10" lengthAdjust="spacingAndGlyphs">% survival</text>
<text transform="translate(191.10 548.50) rotate(-90)" x="0" y="0" font-size="12.60" font-weight="normal" stroke="#000" stroke-width="0.55" textLength="56.60" lengthAdjust="spacingAndGlyphs">% survival</text>
<text transform="translate(331.00 546.40) rotate(-90)" x="0" y="0" font-size="12.60" font-weight="normal" stroke="#000" stroke-width="0.55" textLength="55.70" lengthAdjust="spacingAndGlyphs">% survival</text>
<text transform="translate(39.80 716.10) rotate(-90)" x="0" y="0" font-size="12.60" font-weight="normal" stroke="#000" stroke-width="0.55" textLength="57.60" lengthAdjust="spacingAndGlyphs">% survival</text>
<text transform="translate(293.50 709.70) rotate(-90)" x="0" y="0" font-size="12.60" font-weight="normal" stroke="#000" stroke-width="0.55" textLength="55.50" lengthAdjust="spacingAndGlyphs">% survival</text>
<path d="M453.50 460.80 L466.90 460.80" stroke="#000" stroke-width="1.3"/>
<rect x="456.80" y="457.40" width="6.80" height="6.80" fill="#000"/>
<text x="480.33" y="465.80" font-size="13.00" font-weight="normal" fill="#000" stroke="#000" stroke-width="0.45" textLength="19.28" lengthAdjust="spacingAndGlyphs">HD</text>
<path d="M453.50 475.10 L466.90 475.10" stroke="#000" stroke-width="1.3"/>
<rect x="456.94" y="471.84" width="6.52" height="6.52" fill="none" stroke="#000" stroke-width="1"/>
<text x="480.39" y="480.60" font-size="13.00" font-weight="normal" fill="#000" stroke="#000" stroke-width="0.45" textLength="15.40" lengthAdjust="spacingAndGlyphs">P1</text>
<path d="M453.50 490.00 L466.90 490.00" stroke="#000" stroke-width="1.3"/>
<circle cx="460.20" cy="490.00" r="3.47" fill="#000"/>
<text x="481.06" y="495.30" font-size="13.00" font-weight="normal" fill="#000" stroke="#000" stroke-width="0.45" textLength="30.93" lengthAdjust="spacingAndGlyphs">sister</text>
<path d="M453.50 504.60 L466.90 504.60" stroke="#000" stroke-width="1.3"/>
<path d="M456.44 502.00 L463.96 502.00 L460.20 508.36 Z" fill="#000"/>
<text x="481.40" y="510.00" font-size="13.00" font-weight="normal" fill="#000" stroke="#000" stroke-width="0.45" textLength="32.46" lengthAdjust="spacingAndGlyphs">ALPS</text>
<text x="80.57" y="629.70" font-size="12.80" font-weight="bold" fill="#000" stroke="#000" stroke-width="0.45" textLength="85.94" lengthAdjust="spacingAndGlyphs">staurosporine</text>
<text x="270.47" y="632.60" font-size="16.80" font-weight="bold" fill="#000" stroke="#000" stroke-width="0.70" textLength="12.72" lengthAdjust="spacingAndGlyphs">D</text>
<text x="320.28" y="629.20" font-size="12.80" font-weight="bold" fill="#000" stroke="#000" stroke-width="0.45" textLength="85.34" lengthAdjust="spacingAndGlyphs">staurosporine</text>
<path d="M418.00 652.80 L430.70 652.80" stroke="#000" stroke-width="1.3"/>
<rect x="420.95" y="649.40" width="6.80" height="6.80" fill="#000"/>
<text x="441.34" y="659.60" font-size="13.00" font-weight="normal" fill="#000" stroke="#000" stroke-width="0.45" textLength="75.82" lengthAdjust="spacingAndGlyphs">- butabindide</text>
<path d="M418.00 668.10 L430.70 668.10" stroke="#000" stroke-width="1.3"/>
<rect x="421.09" y="664.84" width="6.52" height="6.52" fill="none" stroke="#000" stroke-width="1"/>
<text x="442.39" y="672.60" font-size="13.00" font-weight="normal" fill="#000" stroke="#000" stroke-width="0.45" textLength="77.96" lengthAdjust="spacingAndGlyphs">+ butabindide</text>
</svg>
</body></html>
